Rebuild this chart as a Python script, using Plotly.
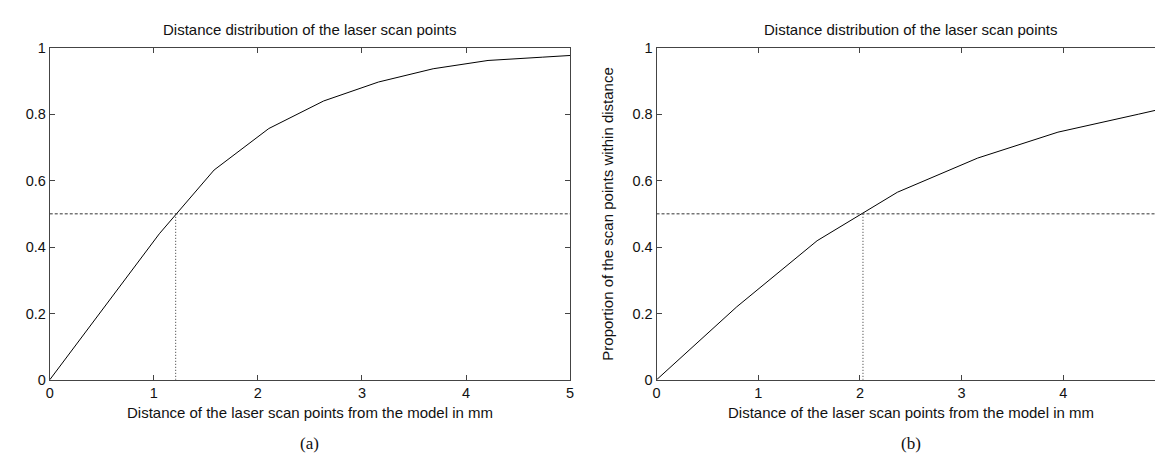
import plotly.graph_objects as go

# ---- data ----
dist_a = [0, 0.526, 1.053, 1.579, 2.105, 2.632, 3.158, 3.684, 4.211, 4.737, 5.263]
prop_a = [0, 0.22, 0.44, 0.632, 0.757, 0.840, 0.897, 0.937, 0.962, 0.972, 0.982]
median_a = 1.21

dist_b = [0, 0.789, 1.579, 2.368, 3.158, 3.947, 4.737, 5.526]
prop_b = [0, 0.22, 0.419, 0.565, 0.668, 0.746, 0.800, 0.855]
median_b = 2.03

half = 0.5
x_ticks = [0, 1, 2, 3, 4, 5]
y_ticks = [0, 0.2, 0.4, 0.6, 0.8, 1]
y_tick_text = ["0", "0.2", "0.4", "0.6", "0.8", "1"]

title_text = "Distance distribution of the laser scan points"
xlabel_text = "Distance of the laser scan points from the model in mm"
ylabel_text = "Proportion of the scan points within distance"
panel_labels = ["(a)", "(b)"]

W, H = 1163, 458
FONT = "Liberation Sans, Arial, Helvetica, sans-serif"
SERIF = "Liberation Serif, Times New Roman, serif"
INK = "#111111"
FRAME = "#444444"
TXT = 15
TICK = 14.5

fig = go.Figure()

def add_panel(xs, ys, med, xa, ya):
    fig.add_trace(go.Scatter(x=xs, y=ys, mode="lines",
                             line=dict(color="black", width=1),
                             xaxis=xa, yaxis=ya, showlegend=False, hoverinfo="skip"))
    fig.add_trace(go.Scatter(x=[0, 5], y=[half, half], mode="lines",
                             line=dict(color="#333333", width=1, dash="3px,2px"),
                             xaxis=xa, yaxis=ya, showlegend=False, hoverinfo="skip"))
    fig.add_trace(go.Scatter(x=[med, med], y=[0, half], mode="lines",
                             line=dict(color="#333333", width=1, dash="1px,2px"),
                             xaxis=xa, yaxis=ya, showlegend=False, hoverinfo="skip"))

add_panel(dist_a, prop_a, median_a, "x", "y")
add_panel(dist_b, prop_b, median_b, "x2", "y2")

def px_x(p):
    return p / W

def px_y(p):
    return 1 - p / H

ydom = [px_y(377), px_y(33)]
common_x = dict(range=[0, 5], tickvals=x_ticks, ticktext=[str(v) for v in x_ticks],
                ticks="inside", ticklen=5, tickcolor=FRAME, showgrid=False, zeroline=False,
                showline=True, linecolor=FRAME, linewidth=1, mirror="ticks",
                tickfont=dict(family=FONT, size=TICK, color=INK), fixedrange=True)
common_y = dict(range=[0, 1], tickvals=y_ticks, ticktext=y_tick_text,
                ticks="inside", ticklen=5, tickcolor=FRAME, showgrid=False, zeroline=False,
                showline=True, linecolor=FRAME, linewidth=1, mirror="ticks",
                tickfont=dict(family=FONT, size=TICK, color=INK), fixedrange=True)

fig.update_layout(
    width=W, height=H,
    margin=dict(l=0, r=0, t=0, b=0),
    paper_bgcolor="white", plot_bgcolor="white",
    xaxis=dict(domain=[px_x(38), px_x(562)], anchor="y", **common_x),
    yaxis=dict(domain=ydom, anchor="x", **common_y),
    xaxis2=dict(domain=[px_x(649), px_x(1161)], anchor="y2", **common_x),
    yaxis2=dict(domain=ydom, anchor="x2", **common_y),
)

annots = []
for cx, lab in [(300, panel_labels[0]), (905, panel_labels[1])]:
    annots.append(dict(text=title_text, x=px_x(cx), y=px_y(14), xref="paper", yref="paper",
                       xanchor="center", yanchor="middle", showarrow=False,
                       font=dict(family=FONT, size=TXT, color=INK)))
    annots.append(dict(text=xlabel_text, x=px_x(cx), y=px_y(411), xref="paper", yref="paper",
                       xanchor="center", yanchor="middle", showarrow=False,
                       font=dict(family=FONT, size=TXT, color=INK)))
    annots.append(dict(text=lab, x=px_x(cx), y=px_y(443), xref="paper", yref="paper",
                       xanchor="center", yanchor="middle", showarrow=False,
                       font=dict(family=SERIF, size=17, color=INK)))
annots.append(dict(text=ylabel_text, x=px_x(600), y=px_y(205), xref="paper", yref="paper",
                   xanchor="center", yanchor="middle", showarrow=False, textangle=-90,
                   font=dict(family=FONT, size=TXT, color=INK)))
fig.update_layout(annotations=annots)

fig.write_html("out.html", config={"displayModeBar": False})
